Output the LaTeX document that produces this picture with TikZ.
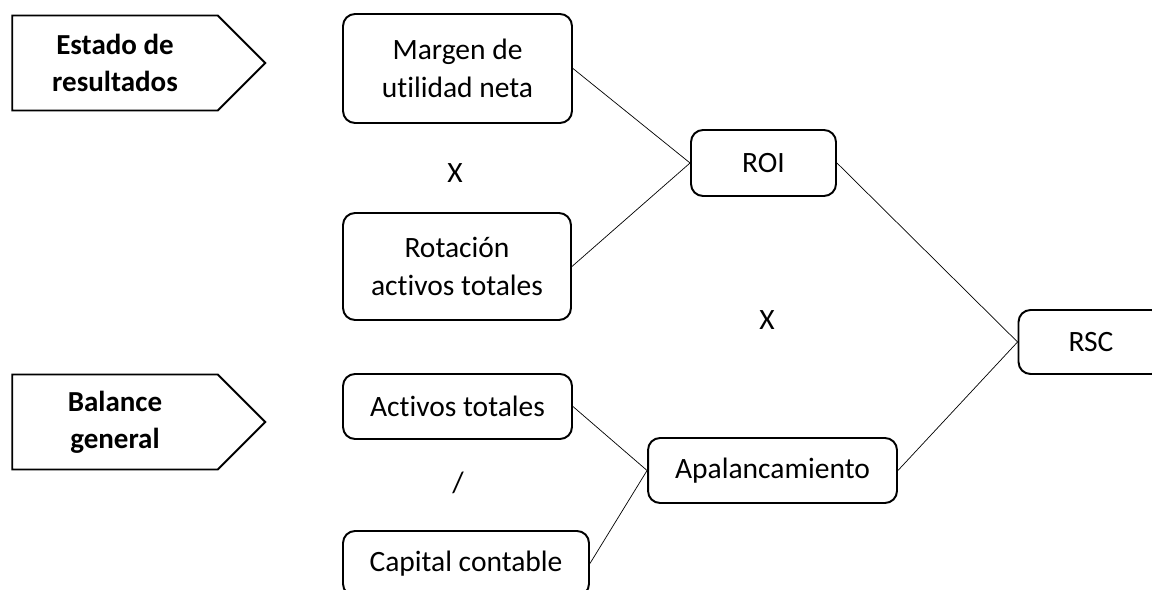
\documentclass[tikz,border=0pt]{standalone}
\usepackage{fontspec}
\setmainfont[RawFeature={-liga;-clig;-calt;-dlig}]{Carlito}
\usetikzlibrary{shapes.symbols}

\begin{document}
\begin{tikzpicture}
[x=0.02cm,y=-0.02cm,every node/.style={font=\fontsize{16.8}{21.5}\selectfont,align=center,inner sep=0pt},
box/.style={draw,line width=1.1pt,rounded corners=0.24cm},
tag/.style={draw,line width=1.1pt,shape=signal,signal to=east,signal pointer angle=90,font=\fontsize{16.5}{21}\selectfont\bfseries,minimum width=5.06cm,minimum height=1.9cm}]
\useasboundingbox (0,0) rectangle (1152,590);
\clip (0,0) rectangle (1152,590);
\node[tag] (edo) at (115,63) {Estado de\\resultados};
\node[tag] (bal) at (115,422) {Balance\\general};
\node[box,minimum width=4.58cm,minimum height=2.18cm] (mun) at (457.5,68.5) {Margen de\\utilidad neta};
\node[box,minimum width=4.56cm,minimum height=2.14cm] (rat) at (457,266.5) {Rotación\\activos totales};
\node[box,minimum width=2.9cm,minimum height=1.32cm] (roi) at (763.5,163) {ROI};
\node[box,minimum width=2.9cm,minimum height=1.28cm] (rsc) at (1091,342) {RSC};
\node[box,minimum width=4.58cm,minimum height=1.3cm] (act) at (457.5,406.5) {Activos totales};
\node[box,minimum width=4.92cm,minimum height=1.3cm] (cap) at (466,563.5) {Capital contable};
\node[box,minimum width=4.98cm,minimum height=1.3cm] (apa) at (772.5,470.5) {Apalancamiento};
\node (x1) at (455,173) {X};
\node (x2) at (767,320) {X};
\node (div) at (458,483) {/};
\draw (mun.east) -- (roi.west);
\draw (rat.east) -- (roi.west);
\draw (roi.east) -- (rsc.west);
\draw (apa.east) -- (rsc.west);
\draw (act.east) -- (apa.west);
\draw (cap.east) -- (apa.west);
\end{tikzpicture}
\end{document}
